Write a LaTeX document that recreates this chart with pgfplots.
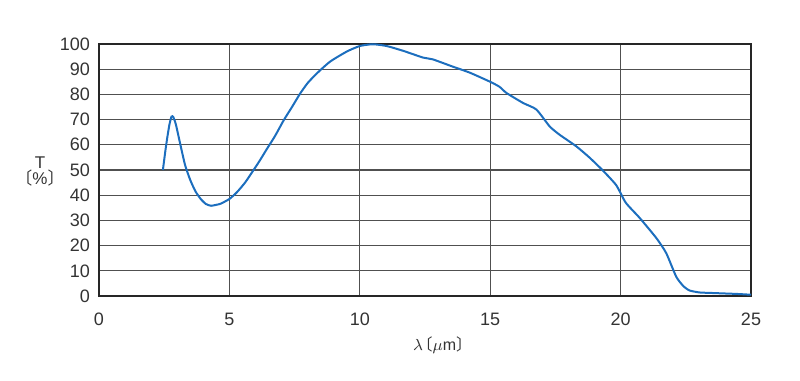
\documentclass[border=0pt]{standalone}
\usepackage{pgfplots}
\pgfplotsset{compat=1.18}
\usepackage{fontspec}
\setmainfont{Liberation Sans}
\newfontfamily\cjk{Noto Sans CJK JP}
\definecolor{curve}{RGB}{28,110,190}
\definecolor{gridc}{RGB}{80,80,80}
\begin{document}
\begin{tikzpicture}
\begin{axis}[
  name=ax, at={(0,0)}, anchor=south west,
  scale only axis, width=326pt, height=126pt,
  xmin=0, xmax=25, ymin=0, ymax=100,
  xtick={0,5,...,25}, ytick={0,10,...,100},
  major tick length=0pt,
  grid=major,
  major grid style={gridc, line width=0.6pt},
  axis line style={black!85, line width=0.8pt},
  tick label style={font=\fontsize{9}{10}\selectfont, text=black!80},
  /pgf/number format/assume math mode=true,
  xticklabel style={yshift=-5pt},
  yticklabel style={xshift=-1pt},
  xlabel={\fontsize{8}{9}\selectfont$\lambda${\cjk\kern-0.4em 〔}$\mu$m{\cjk 〕\kern-0.4em}},
  xlabel style={at={(axis description cs:0.522,0)}, anchor=north, yshift=-17pt, text=black!80},
  ylabel={\fontsize{8.5}{9}\selectfont\begin{tabular}{@{}c@{}}T\\[-2pt]{\cjk 〔}\%{\cjk 〕}\end{tabular}},
  ylabel style={rotate=-90, at={(axis description cs:0,0.49)}, anchor=center, xshift=-29.5pt, text=black!80},
]
\addplot[curve, line width=1pt, smooth, tension=0.35] coordinates {
(2.45,50) (2.55,58) (2.62,63) (2.7,68) (2.78,71.2) (2.85,71) (2.95,68)
(3.1,61) (3.3,52) (3.5,46) (3.7,41.5) (3.9,38.5) (4.1,36.5) (4.3,35.8)
(4.5,36.2) (4.66,36.6) (5.0,38.5) (5.29,41.2) (5.6,45) (5.87,49.1) (6.15,53.5)
(6.44,58.4) (6.75,63.5) (7.08,69.7) (7.4,75) (7.71,80.3) (8.0,84.5) (8.35,88.3)
(8.86,93) (9.5,97) (10.0,99.2) (10.5,99.9) (11.03,99.2) (11.66,97.3)
(12.43,94.6) (12.8,93.9) (13.57,91) (14.2,88.7) (15.0,85) (15.36,83)
(15.62,80.6) (16.26,76.6) (16.77,74) (17.28,67.3) (17.66,64) (18.3,59.4)
(18.8,55) (19.3,50) (19.83,44) (20.2,37) (20.73,31) (21.37,23) (21.75,17)
(22.13,7.7) (22.4,4) (22.64,2.2) (23.03,1.4) (23.5,1.2) (24.0,1.0) (24.5,0.8) (25.0,0.5)
};
\end{axis}
\path ([xshift=-49.5pt,yshift=-42pt]ax.south west) rectangle ([xshift=24.5pt,yshift=22pt]ax.north east);
\end{tikzpicture}
\end{document}
